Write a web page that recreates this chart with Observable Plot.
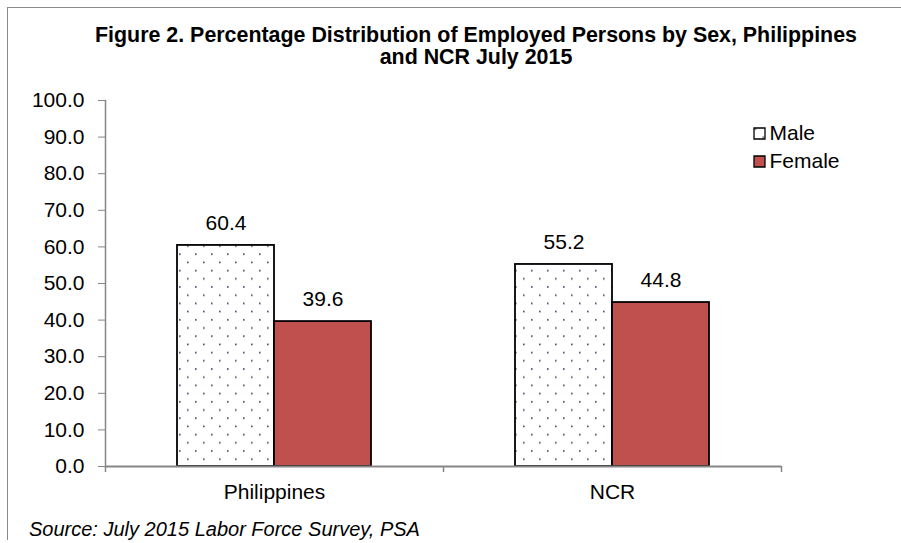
<!DOCTYPE html>
<html>
<head>
<meta charset="utf-8">
<script src="https://cdn.jsdelivr.net/npm/d3@7"></script>
<script src="https://cdn.jsdelivr.net/npm/@observablehq/plot@0.6"></script>
<style>
  html, body { margin: 0; padding: 0; background: #fff; }
  #wrap { position: relative; width: 901px; height: 543px; overflow: hidden; font-family: Arial, "Liberation Sans", sans-serif; }
  #border { position: absolute; left: 7px; top: 7px; width: 1000px; height: 533px; border-top: 1.5px solid #8a8a8a; border-left: 1.5px solid #8a8a8a; box-sizing: border-box; }
  #title { box-sizing: border-box; height: 70px; padding-top: 24px; margin-left: 7px; width: 938px; text-align: center; font-weight: bold; font-size: 21.4px; line-height: 22px; color: #000; }
  #chart svg { display: block; }
  #source { box-sizing: border-box; height: 33px; padding-top: 9px; padding-left: 29px; font-style: italic; font-size: 20px; line-height: 21px; color: #000; }
</style>
</head>
<body>
<div id="wrap">
  <div id="border"></div>
  <div id="title">Figure 2. Percentage Distribution of Employed Persons by Sex, Philippines<br>and NCR July 2015</div>
  <div id="chart"></div>
  <div id="source">Source: July 2015 Labor Force Survey, PSA</div>
</div>
<script>
// ---- data ----
const categories = ["Philippines", "NCR"];
const sexes = ["Male", "Female"];
const maleValues = [60.4, 55.2];
const femaleValues = [39.6, 44.8];
const yTicks = [0, 10, 20, 30, 40, 50, 60, 70, 80, 90, 100];

const rows = [];
categories.forEach((c, i) => {
  rows.push({category: c, sex: "Male", value: maleValues[i]});
  rows.push({category: c, sex: "Female", value: femaleValues[i]});
});

// ---- layout ----
const W = 901, H = 440;
const mL = 105, mR = 120, mT = 30, mB = 44;
const bandW = (W - mL - mR) / categories.length;
const barW = 97;
const font = 21;
const axisColor = "#868686";

const maleRows = rows.filter(d => d.sex === "Male");
const femaleRows = rows.filter(d => d.sex === "Female");

const plot = Plot.plot({
  width: W, height: H,
  marginLeft: mL, marginRight: mR, marginTop: mT, marginBottom: mB,
  style: {fontFamily: "Arial, 'Liberation Sans', sans-serif", fontSize: font + "px", color: "#000", background: "transparent"},
  x: {type: "band", domain: categories, padding: 0, axis: null},
  y: {domain: [0, 100], axis: null},
  color: {type: "ordinal", domain: sexes, range: ["url(#dotsPattern)", "#C0504D"]},
  marks: [
    // bars
    Plot.barY(maleRows, {x: "category", y: "value", fill: "sex", stroke: "#000", strokeWidth: 1.8,
      insetLeft: bandW / 2 - barW, insetRight: bandW / 2}),
    Plot.barY(femaleRows, {x: "category", y: "value", fill: "sex", stroke: "#000", strokeWidth: 1.8,
      insetLeft: bandW / 2, insetRight: bandW / 2 - barW}),
    // value labels
    Plot.text(maleRows, {x: "category", y: "value", text: d => d.value.toFixed(1), dx: -barW / 2, dy: -22, fill: "#000", fontSize: font}),
    Plot.text(femaleRows, {x: "category", y: "value", text: d => d.value.toFixed(1), dx: barW / 2, dy: -22, fill: "#000", fontSize: font}),
    // y axis
    Plot.frame({anchor: "left", stroke: axisColor, strokeWidth: 1.5}),
    Plot.axisY(yTicks, {label: null, tickSize: 7, tickPadding: 14, tickFormat: d3.format(".1f"), stroke: axisColor, fill: "#000", fontSize: font}),
    // x axis line + boundary ticks
    Plot.ruleY([0], {stroke: axisColor, strokeWidth: 1.8}),
    Plot.axisX(categories, {label: null, tickSize: 6, tickFormat: () => "", dx: -bandW / 2, stroke: axisColor, strokeWidth: 1.5}),
    Plot.axisX(categories.slice(-1), {label: null, tickSize: 6, tickFormat: () => "", dx: bandW / 2, stroke: axisColor, strokeWidth: 1.5}),
    Plot.axisX(categories, {label: null, tickSize: 0, tickPadding: 18, fill: "#000", fontSize: font}),
    // legend
    ...sexes.map((s, i) => Plot.dot([s], {fill: d => d, symbol: "square", r: 6.2, stroke: "#000", strokeWidth: 1.3,
      frameAnchor: "top-right", dx: -22, dy: 33 + i * 28})),
    ...sexes.map((s, i) => Plot.text([s], {text: d => d, frameAnchor: "top-right", textAnchor: "start", lineAnchor: "middle",
      dx: -12, dy: 33 + i * 28, fill: "#000", fontSize: font}))
  ]
});

// dotted pattern for the Male series
const ns = "http://www.w3.org/2000/svg";
const defs = document.createElementNS(ns, "defs");
const pat = document.createElementNS(ns, "pattern");
pat.setAttribute("id", "dotsPattern");
pat.setAttribute("patternUnits", "userSpaceOnUse");
pat.setAttribute("width", "16");
pat.setAttribute("height", "16.4");
const bg = document.createElementNS(ns, "rect");
bg.setAttribute("width", "16"); bg.setAttribute("height", "16.4"); bg.setAttribute("fill", "#fff");
pat.appendChild(bg);
[[3, 3], [11, 11.2]].forEach(([x, y]) => {
  const r = document.createElementNS(ns, "rect");
  r.setAttribute("x", x); r.setAttribute("y", y);
  r.setAttribute("width", "1.6"); r.setAttribute("height", "1.6");
  r.setAttribute("fill", "#34466a");
  pat.appendChild(r);
});
defs.appendChild(pat);
plot.insertBefore(defs, plot.firstChild);

document.getElementById("chart").appendChild(plot);
</script>
</body>
</html>
